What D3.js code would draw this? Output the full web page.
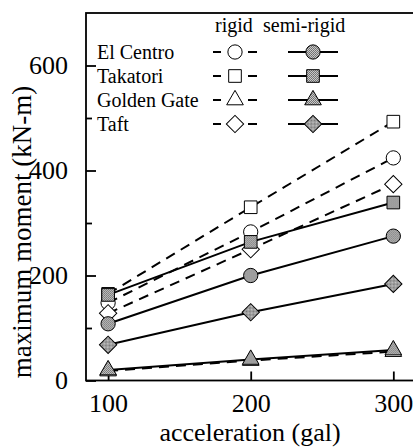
<!DOCTYPE html>
<html><head><meta charset="utf-8">
<script src="https://cdn.jsdelivr.net/npm/d3@7"></script>
<style>body{margin:0;background:#fff}svg{display:block}text{font-family:"Liberation Serif","Times New Roman",serif !important;fill:#000}</style>
</head><body>
<svg id="chart" width="413" height="447"></svg>
<script>
const accel = [100, 200, 300];
const records = ["El Centro", "Takatori", "Golden Gate", "Taft"];
const shapes = ["circle", "square", "triangle", "diamond"];
const rigid = {
  "El Centro": [148, 283, 424],
  "Takatori": [165, 330, 493],
  "Golden Gate": [18, 38, 55],
  "Taft": [128, 250, 374]
};
const semiRigid = {
  "El Centro": [108, 200, 275],
  "Takatori": [163, 264, 339],
  "Golden Gate": [20, 40, 58],
  "Taft": [68, 130, 184]
};
const yMajor = [0, 200, 400, 600];
const yMinor = [100, 300, 500];
const xTicks = [100, 200, 300];

const svg = d3.select("#chart");
const m = {left: 86, top: 13, right: 414, bottom: 380.5};
const x = d3.scaleLinear().domain([84.5, 314.5]).range([m.left, m.right]);
const y = d3.scaleLinear().domain([0, 700]).range([m.bottom, m.top]);

// halftone fill pattern
const defs = svg.append("defs");
const pat = defs.append("pattern").attr("id", "half").attr("width", 2).attr("height", 2).attr("patternUnits", "userSpaceOnUse");
pat.append("rect").attr("width", 2).attr("height", 2).attr("fill", "#c8c8c8");
pat.append("rect").attr("width", 1).attr("height", 1).attr("fill", "#6e6e6e");
pat.append("rect").attr("x", 1).attr("y", 1).attr("width", 1).attr("height", 1).attr("fill", "#7a7a7a");
const grayFill = "url(#half)";

const symType = {circle: d3.symbolCircle, square: d3.symbolSquare, triangle: d3.symbolTriangle, diamond: d3.symbolSquare};
const symSize = {circle: 160, square: 160, triangle: 120, diamond: 150};
function sym(shape){ return d3.symbol().type(symType[shape]).size(symSize[shape])(); }
function symTransform(shape, px, py){ return `translate(${px},${py})` + (shape === "diamond" ? " rotate(45)" : ""); }

// frame
svg.append("rect").attr("x", m.left).attr("y", m.top).attr("width", m.right - m.left).attr("height", m.bottom - m.top)
  .attr("fill", "none").attr("stroke", "#000").attr("stroke-width", 1.8);

const serif = "Liberation Serif";
// y axis
const yAxis = svg.append("g").attr("transform", `translate(${m.left},0)`)
  .call(d3.axisLeft(y).tickValues(yMajor).tickSize(-10).tickPadding(18).tickFormat(d3.format("d")));
yAxis.attr("font-family", serif);
yAxis.select(".domain").remove();
yAxis.selectAll("line").attr("stroke-width", 1.8);
yAxis.selectAll("text").style("font-family", serif).attr("font-size", 26);
const yAxisMinor = svg.append("g").attr("transform", `translate(${m.left},0)`)
  .call(d3.axisLeft(y).tickValues(yMinor).tickSize(-6).tickFormat(""));
yAxisMinor.select(".domain").remove();
yAxisMinor.selectAll("line").attr("stroke-width", 1.8);

// x axis
const xAxis = svg.append("g").attr("transform", `translate(0,${m.bottom})`)
  .call(d3.axisBottom(x).tickValues(xTicks).tickSize(-9).tickPadding(13).tickFormat(d3.format("d")));
xAxis.attr("font-family", serif);
xAxis.select(".domain").remove();
xAxis.selectAll("line").attr("stroke-width", 1.8);
xAxis.selectAll("text").style("font-family", serif).attr("font-size", 26);

// titles
svg.append("text").attr("x", 250).attr("y", 441).attr("text-anchor", "middle").attr("font-size", 26).text("acceleration (gal)");
svg.append("text").attr("transform", "translate(31,232) rotate(-90)").attr("text-anchor", "middle").attr("font-size", 27).text("maximum moment (kN-m)");

const line = d3.line().x((d, i) => x(accel[i])).y(d => y(d));
const plot = svg.append("g");

// rigid (dashed, hollow)
records.forEach((r, k) => {
  plot.append("path").attr("d", line(rigid[r])).attr("fill", "none").attr("stroke", "#000")
    .attr("stroke-width", 2).attr("stroke-dasharray", "10,7");
});
records.forEach((r, k) => {
  plot.selectAll(null).data(rigid[r]).enter().append("path")
    .attr("d", sym(shapes[k])).attr("transform", (d, i) => symTransform(shapes[k], x(accel[i]), y(d)))
    .attr("fill", "#fff").attr("stroke", "#000").attr("stroke-width", 1);
});
// semi-rigid (solid, gray)
records.forEach((r, k) => {
  plot.append("path").attr("d", line(semiRigid[r])).attr("fill", "none").attr("stroke", "#000").attr("stroke-width", 2);
});
records.forEach((r, k) => {
  plot.selectAll(null).data(semiRigid[r]).enter().append("path")
    .attr("d", sym(shapes[k])).attr("transform", (d, i) => symTransform(shapes[k], x(accel[i]), y(d)))
    .attr("fill", grayFill).attr("stroke", "#000").attr("stroke-width", 1);
});

// legend
const lg = svg.append("g");
lg.append("text").attr("x", 215).attr("y", 32).attr("font-size", 20).text("rigid");
lg.append("text").attr("x", 263).attr("y", 32).attr("font-size", 20).text("semi-rigid");
records.forEach((r, k) => {
  const ly = 52 + k * 24;
  lg.append("text").attr("x", 97).attr("y", ly + 7).attr("font-size", 20).text(r);
  lg.append("line").attr("x1", 213).attr("x2", 221).attr("y1", ly).attr("y2", ly).attr("stroke", "#000").attr("stroke-width", 2);
  lg.append("line").attr("x1", 248).attr("x2", 257).attr("y1", ly).attr("y2", ly).attr("stroke", "#000").attr("stroke-width", 2);
  lg.append("path").attr("d", sym(shapes[k])).attr("transform", symTransform(shapes[k], 235, ly))
    .attr("fill", "#fff").attr("stroke", "#000").attr("stroke-width", 1);
  lg.append("line").attr("x1", 288).attr("x2", 338).attr("y1", ly).attr("y2", ly).attr("stroke", "#000").attr("stroke-width", 2);
  lg.append("path").attr("d", sym(shapes[k])).attr("transform", symTransform(shapes[k], 313, ly))
    .attr("fill", grayFill).attr("stroke", "#000").attr("stroke-width", 1);
});
</script>
</body></html>
